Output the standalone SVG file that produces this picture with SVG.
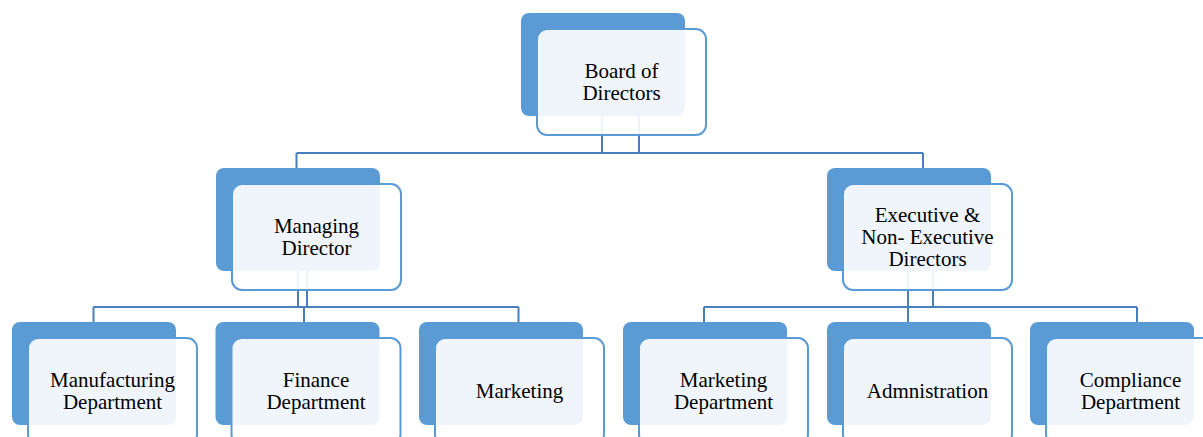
<svg xmlns="http://www.w3.org/2000/svg" width="1203" height="437" viewBox="0 0 1203 437">
<style>
.back{fill:#5b9bd5}
.front{fill:#ffffff;fill-opacity:0.9;stroke:#5b9bd5;stroke-width:2}
.lbl{font-family:'Liberation Serif',Tinos,'Times New Roman','DejaVu Serif',serif;font-size:21px;fill:#000;text-anchor:middle}
.con{fill:none;stroke:#4a7ebb;stroke-width:2}
</style>
<rect width="1203" height="437" fill="#ffffff"/>
<g id="connectors" class="con">
<path d="M602,116V153M639,116V153M296.5,153H923M296.5,153V168M923,153V168"/>
<path d="M298,270V307M307,270V307M93.5,307H518.5M93.5,307V322M304,307V322M518.5,307V322"/>
<path d="M908,270V307M933,270V307M704,307H1137M704,307V322M908,307V322M1137,307V322"/>
</g>
<g id="board">
<rect class="back" x="521" y="13" width="164" height="103" rx="8"/>
<rect class="front" x="537" y="29" width="169" height="106" rx="10"/>
<text class="lbl" x="621.5" y="78">Board of</text>
<text class="lbl" x="621.5" y="100">Directors</text>
</g>
<g id="managing">
<rect class="back" x="216" y="168" width="164" height="103" rx="8"/>
<rect class="front" x="232" y="184" width="169" height="106" rx="10"/>
<text class="lbl" x="316.5" y="233">Managing</text>
<text class="lbl" x="316.5" y="255">Director</text>
</g>
<g id="executive">
<rect class="back" x="827" y="168" width="164" height="103" rx="8"/>
<rect class="front" x="843" y="184" width="169" height="106" rx="10"/>
<text class="lbl" x="927.5" y="222">Executive &amp;</text>
<text class="lbl" x="927.5" y="244">Non- Executive</text>
<text class="lbl" x="927.5" y="266">Directors</text>
</g>
<g id="manufacturing">
<rect class="back" x="12" y="322" width="164" height="103" rx="8"/>
<rect class="front" x="28" y="338" width="169" height="106" rx="10"/>
<text class="lbl" x="112.5" y="387">Manufacturing</text>
<text class="lbl" x="112.5" y="409">Department</text>
</g>
<g id="finance">
<rect class="back" x="215.5" y="322" width="164" height="103" rx="8"/>
<rect class="front" x="231.5" y="338" width="169" height="106" rx="10"/>
<text class="lbl" x="316" y="387">Finance</text>
<text class="lbl" x="316" y="409">Department</text>
</g>
<g id="marketing">
<rect class="back" x="419" y="322" width="164" height="103" rx="8"/>
<rect class="front" x="435" y="338" width="169" height="106" rx="10"/>
<text class="lbl" x="519.5" y="398">Marketing</text>
</g>
<g id="marketing-department">
<rect class="back" x="623" y="322" width="164" height="103" rx="8"/>
<rect class="front" x="639" y="338" width="169" height="106" rx="10"/>
<text class="lbl" x="723.5" y="387">Marketing</text>
<text class="lbl" x="723.5" y="409">Department</text>
</g>
<g id="administration">
<rect class="back" x="827" y="322" width="164" height="103" rx="8"/>
<rect class="front" x="843" y="338" width="169" height="106" rx="10"/>
<text class="lbl" x="927.5" y="398">Admnistration</text>
</g>
<g id="compliance">
<rect class="back" x="1030" y="322" width="164" height="103" rx="8"/>
<rect class="front" x="1046" y="338" width="169" height="106" rx="10"/>
<text class="lbl" x="1130.5" y="387">Compliance</text>
<text class="lbl" x="1130.5" y="409">Department</text>
</g>
</svg>
